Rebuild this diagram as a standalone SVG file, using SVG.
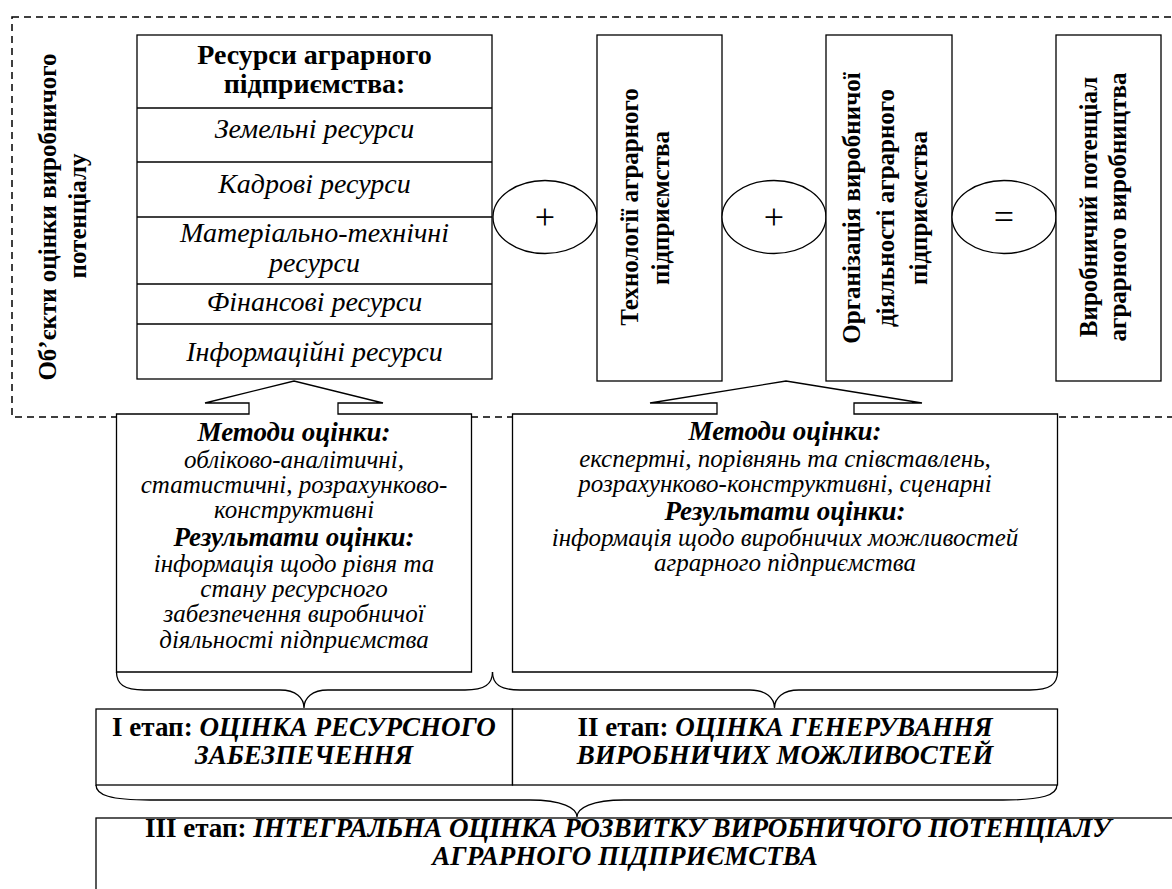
<svg xmlns="http://www.w3.org/2000/svg" width="1172" height="889" viewBox="0 0 1172 889">
<style>
  text { font-family: "Liberation Serif", "Times New Roman", serif; fill: #000; }
  .v { font-weight: bold; font-size: 25px; }
  .hd { font-weight: bold; font-size: 28px; }
  .it { font-style: italic; font-size: 28px; }
  .i { font-style: italic; font-size: 25px; }
  .bi { font-weight: bold; font-style: italic; font-size: 27px; }
  .st { font-weight: bold; font-size: 27px; }
  .sti { font-weight: bold; font-style: italic; font-size: 27px; }
  .sym { font-size: 36px; }
  .box { fill: #fff; stroke: #000; stroke-width: 1.3; }
  .ln { fill: none; stroke: #000; stroke-width: 1.3; }
  .dash { fill: none; stroke: #000; stroke-width: 1.5; stroke-dasharray: 7 5; }
  .c { text-anchor: middle; }
</style>
<rect width="1172" height="889" fill="#fff"/>

<g id="frame">
  <rect class="dash" x="12" y="17" width="1185" height="400"/>
  <text class="v c" transform="translate(56,217) rotate(-90)">Об’єкти оцінки виробничого</text>
  <text class="v c" transform="translate(86,216) rotate(-90)">потенціалу</text>
</g>

<g id="resources">
  <rect class="box" x="137" y="35" width="355" height="344"/>
  <line class="ln" x1="137" y1="108" x2="492" y2="108"/>
  <line class="ln" x1="137" y1="162" x2="492" y2="162"/>
  <line class="ln" x1="137" y1="217" x2="492" y2="217"/>
  <line class="ln" x1="137" y1="284" x2="492" y2="284"/>
  <line class="ln" x1="137" y1="324" x2="492" y2="324"/>
  <text class="hd c" x="314.5" y="64">Ресурси аграрного</text>
  <text class="hd c" x="314.5" y="93">підприємства:</text>
  <text class="it c" x="314.5" y="138">Земельні ресурси</text>
  <text class="it c" x="314.5" y="193">Кадрові ресурси</text>
  <text class="it c" x="314.5" y="242">Матеріально-технічні</text>
  <text class="it c" x="314.5" y="272">ресурси</text>
  <text class="it c" x="314.5" y="311">Фінансові ресурси</text>
  <text class="it c" x="314.5" y="361">Інформаційні ресурси</text>
</g>

<g id="plus1">
  <ellipse class="box" cx="545" cy="217" rx="52" ry="36.5"/>
  <text class="sym c" x="545" y="229">+</text>
</g>

<g id="technology">
  <rect class="box" x="597" y="35" width="125" height="346"/>
  <text class="v c" transform="translate(638,207) rotate(-90)">Технології аграрного</text>
  <text class="v c" transform="translate(669,208) rotate(-90)">підприємства</text>
</g>

<g id="plus2">
  <ellipse class="box" cx="774" cy="217" rx="52" ry="36.5"/>
  <text class="sym c" x="774" y="229">+</text>
</g>

<g id="organization">
  <rect class="box" x="826" y="35" width="126" height="346"/>
  <text class="v c" transform="translate(860,208) rotate(-90)">Організація виробничої</text>
  <text class="v c" transform="translate(894,208) rotate(-90)">діяльності аграрного</text>
  <text class="v c" transform="translate(927,208) rotate(-90)">підприємства</text>
</g>

<g id="equals">
  <ellipse class="box" cx="1004" cy="217" rx="52" ry="36.5"/>
  <text class="sym c" x="1004" y="229">=</text>
</g>

<g id="potential">
  <rect class="box" x="1056" y="35" width="105" height="346"/>
  <text class="v c" transform="translate(1097,207) rotate(-90)">Виробничий потенціал</text>
  <text class="v c" transform="translate(1126,207) rotate(-90)">аграрного виробництва</text>
</g>

<g id="methods1">
  <path class="box" d="M116.5,414 L249,414 L249,403 L205,403 L294,381 L383,403 L338,403 L338,414 L471.5,414 L471.5,672 L116.5,672 Z"/>
  <text class="bi c" x="294" y="441">Методи оцінки:</text>
  <text class="i c" x="294" y="468">обліково-аналітичні,</text>
  <text class="i c" x="294" y="493">статистичні, розрахунково-</text>
  <text class="i c" x="294" y="518">конструктивні</text>
  <text class="bi c" x="294" y="546">Результати оцінки:</text>
  <text class="i c" x="294" y="572">інформація щодо рівня та</text>
  <text class="i c" x="294" y="597">стану ресурсного</text>
  <text class="i c" x="294" y="622">забезпечення виробничої</text>
  <text class="i c" x="294" y="648">діяльності підприємства</text>
</g>

<g id="methods2">
  <path class="box" d="M512.5,414 L717,414 L717,403 L650,403 L786,381 L922,403 L854,403 L854,414 L1057.5,414 L1057.5,672 L512.5,672 Z"/>
  <text class="bi c" x="785" y="440">Методи оцінки:</text>
  <text class="i c" x="785" y="467">експертні, порівнянь та співставлень,</text>
  <text class="i c" x="785" y="492">розрахунково-конструктивні, сценарні</text>
  <text class="bi c" x="785" y="520">Результати оцінки:</text>
  <text class="i c" x="785" y="546">інформація щодо виробничих можливостей</text>
  <text class="i c" x="785" y="571">аграрного підприємства</text>
</g>

<g id="connectors">
  <path class="ln" d="M116.5,672 C116.5,684 124,690 144,690 L280,690 C296,690 304,698 304,708 C304,698 312,690 328,690 L465,690 C485,690 492.5,684 492.5,672"/>
  <path class="ln" d="M492.5,672 C492.5,684 500,690 520,690 L750,690 C766,690 774.5,698 774.5,708 C774.5,698 783,690 799,690 L1030,690 C1050,690 1057.5,684 1057.5,672"/>
  <path class="ln" d="M96,785 C96,795 110,800 150,800 L530,800 C562,800 577,808 577,817 C577,808 592,800 624,800 L1003,800 C1043,800 1057,795 1057,785"/>
</g>

<g id="stage1">
  <rect class="box" x="96" y="709" width="416.5" height="76"/>
  <text class="c" x="304" y="736"><tspan class="st">І етап: </tspan><tspan class="sti">ОЦІНКА РЕСУРСНОГО</tspan></text>
  <text class="sti c" x="304" y="764">ЗАБЕЗПЕЧЕННЯ</text>
</g>

<g id="stage2">
  <rect class="box" x="512.5" y="709" width="545" height="76"/>
  <text class="c" x="785" y="736"><tspan class="st">ІІ етап: </tspan><tspan class="sti">ОЦІНКА ГЕНЕРУВАННЯ</tspan></text>
  <text class="sti c" x="785" y="764">ВИРОБНИЧИХ МОЖЛИВОСТЕЙ</text>
</g>

<g id="stage3">
  <rect class="box" x="96" y="818" width="1100" height="100"/>
  <text class="c" x="628" y="837"><tspan class="st">ІІІ етап: </tspan><tspan class="sti">ІНТЕГРАЛЬНА ОЦІНКА РОЗВИТКУ ВИРОБНИЧОГО ПОТЕНЦІАЛУ</tspan></text>
  <text class="sti c" x="625" y="865">АГРАРНОГО ПІДПРИЄМСТВА</text>
</g>
</svg>
